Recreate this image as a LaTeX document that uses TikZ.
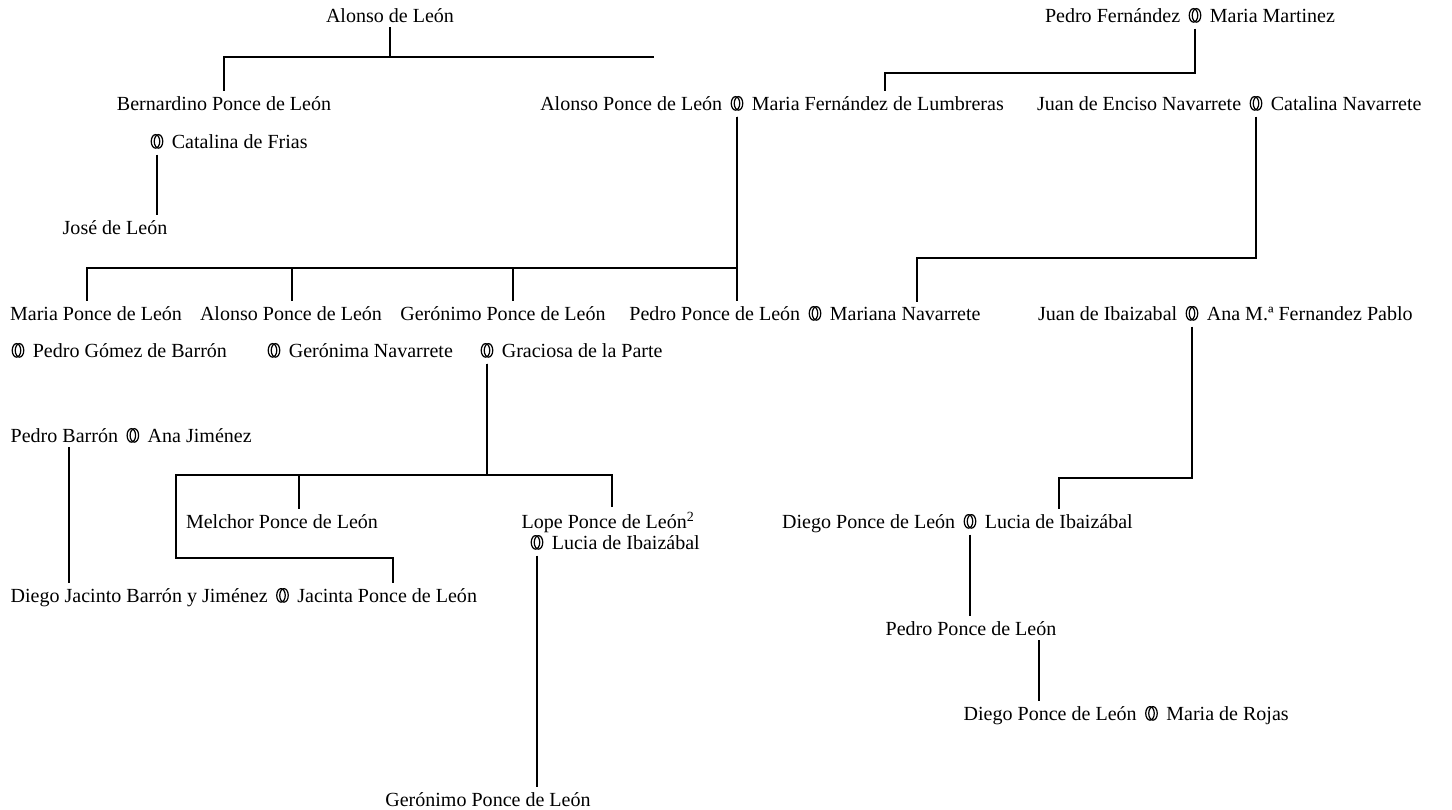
\documentclass[tikz,border=0pt]{standalone}
\usepackage{fontspec}
\setmainfont{Liberation Serif}
\usetikzlibrary{positioning}

\begin{document}
\begin{tikzpicture}[x=0.2mm, y=-0.2mm, font=\fontsize{11.4}{14}\selectfont, line width=0.75pt, node distance=1.2mm]
	\tikzstyle{person} = [inner sep=0pt, anchor=base]
	\tikzstyle{ring} = [inner sep=0pt, anchor=base, minimum width=3mm, minimum height=3.2mm, path picture={
		\draw[line width=0.7pt] ([xshift=-0.3mm]path picture bounding box.center) ellipse (0.85mm and 1.35mm);
		\draw[line width=0.7pt] ([xshift=0.3mm]path picture bounding box.center) ellipse (0.85mm and 1.35mm);}]
	\tikzstyle{link} = [draw, shorten <=0.9mm, shorten >=0.9mm]
	\path[use as bounding box, fill=white] (0,0) rectangle (1452,809);

	% first generation
	\node[person] (ad) at (390,22) {Alonso de León};
	\node[ring] (pfR) at (1195,22) {\vphantom{A}};
	\node[person, base left=of pfR] (pf) {Pedro Fernández};
	\node[person, base right=of pfR] (mm) {Maria Martinez};

	% second generation
	\node[person] (bern) at (224,110) {Bernardino Ponce de León};
	\node[ring] (cfR) at (157,148) {\vphantom{A}};
	\node[person, base right=of cfR] (cf) {Catalina de Frias};
	\node[person] (jose) at (115,234) {José de León};
	\node[ring] (apR) at (737,110) {\vphantom{A}};
	\node[person, base left=of apR] (ap) {Alonso Ponce de León};
	\node[person, base right=of apR] (mfl) {Maria Fernández de Lumbreras};
	\node[ring] (jeR) at (1256,110) {\vphantom{A}};
	\node[person, base left=of jeR] (je) {Juan de Enciso Navarrete};
	\node[person, base right=of jeR] (cn) {Catalina Navarrete};

	% third generation
	\node[person] (mpl) at (96,320) {Maria Ponce de León};
	\node[person] (apl) at (291,320) {Alonso Ponce de León};
	\node[person] (gpl) at (503,320) {Gerónimo Ponce de León};
	\node[ring] (ppR) at (815,320) {\vphantom{A}};
	\node[person, base left=of ppR] (ppl) {Pedro Ponce de León};
	\node[person, base right=of ppR] (mn) {Mariana Navarrete};
	\node[ring] (jiR) at (1192,320) {\vphantom{A}};
	\node[person, base left=of jiR] (ji) {Juan de Ibaizabal};
	\node[person, base right=of jiR] (afp) {Ana M.ª Fernandez Pablo};
	\node[ring] (pgR) at (18,357) {\vphantom{A}};
	\node[person, base right=of pgR] (pg) {Pedro Gómez de Barrón};
	\node[ring] (gnR) at (274,357) {\vphantom{A}};
	\node[person, base right=of gnR] (gn) {Gerónima Navarrete};
	\node[ring] (gpR) at (487,357) {\vphantom{A}};
	\node[person, base right=of gpR] (gp) {Graciosa de la Parte};
	\node[person, anchor=base west] (pb) at (10,442) {Pedro Barrón};
	\node[ring, base right=of pb] (pbR) {\vphantom{A}};
	\node[person, base right=of pbR] (aj) {Ana Jiménez};

	% fourth generation
	\node[person] (mel) at (282,528) {Melchor Ponce de León};
	\node[person, anchor=base west] (lope) at (521,528) {Lope Ponce de León\textsuperscript{2}};
	\node[ring] (lopeR) at (537,549) {\vphantom{A}};
	\node[person, base right=of lopeR] (lid) {Lucia de Ibaizábal};
	\node[person, anchor=base west] (dj) at (10,602) {Diego Jacinto Barrón y Jiménez};
	\node[ring, base right=of dj] (djR) {\vphantom{A}};
	\node[person, base right=of djR] (jac) {Jacinta Ponce de León};
	\node[person] (gb) at (488,806) {Gerónimo Ponce de León};
	\node[ring] (dpR) at (970,528) {\vphantom{A}};
	\node[person, base left=of dpR] (dp) {Diego Ponce de León};
	\node[person, base right=of dpR] (li) {Lucia de Ibaizábal};
	\node[person] (ppr) at (971,635) {Pedro Ponce de León};
	\node[person, anchor=base west] (dp2) at (963,720) {Diego Ponce de León};
	\node[ring, base right=of dp2] (dp2R) {\vphantom{A}};
	\node[person, base right=of dp2R] (mr) {Maria de Rojas};

	% connectors
	\coordinate (adEnd) at (654,57);
	\draw[link] (ad.south) -- (ad.south |- adEnd) -| (bern.north);
	\draw[link, shorten >=0pt] (ad.south) |- (adEnd);
	\coordinate (pfBar) at (885,73);
	\draw[link] (pfR.south) |- (pfBar) -- (pfBar |- mfl.north);
	\draw[link] (cfR.south) -- (cfR.south |- jose.north);
	\coordinate (apBar) at (0,268);
	\foreach \kid/\x in {mpl/87, apl/292, gpl/513}
		\draw[link] (apR.south) -- (apR.south |- apBar) -| (\x,0 |- \kid.north);
	\draw[link] (apR.south) -- (apR.south |- ppl.north);
	\coordinate (jeBar) at (917,258);
	\draw[link] (jeR.south) |- (jeBar) -- (jeBar |- mn.north);
	\coordinate (gpBar) at (0,475);
	\foreach \kid/\x in {mel/299, lope/612}
		\draw[link] (gpR.south) -- (gpR.south |- gpBar) -| (\x,0 |- \kid.north);
	\coordinate (jacBend) at (176,558);
	\draw[link] (gpR.south) -- (gpR.south |- gpBar) -| (jacBend) -| (393,0 |- jac.north);
	\draw[link] (69,0 |- pb.south) -- (69,0 |- dj.north);
	\draw[link] (lopeR.south) -- (lopeR.south |- gb.north);
	\coordinate (jiBar) at (1059,478);
	\draw[link] (jiR.south) |- (jiBar) -- (jiBar |- li.north);
	\draw[link] (dpR.south) -- (dpR.south |- ppr.north);
	\draw[link] (1039,0 |- ppr.south) -- (1039,0 |- dp2.north);
\end{tikzpicture}
\end{document}
